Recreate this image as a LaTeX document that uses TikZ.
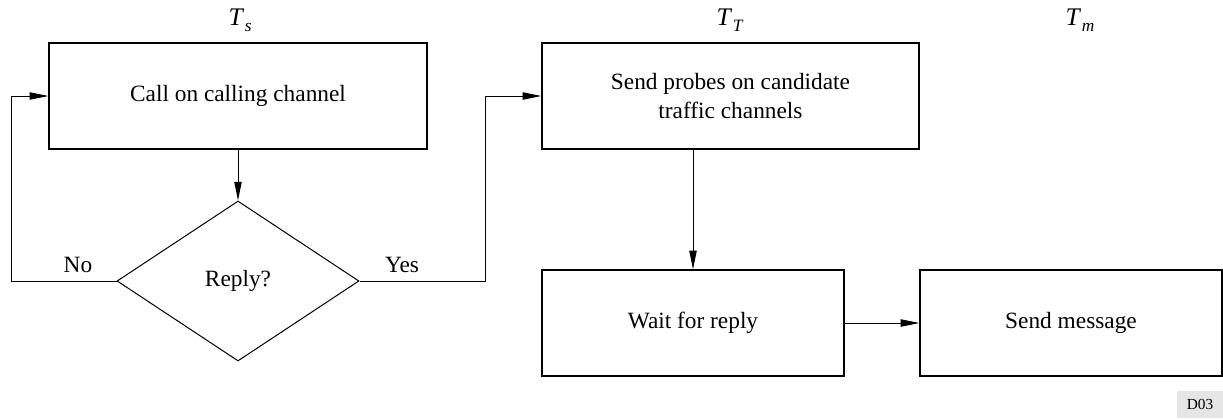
\documentclass[tikz,border=0pt]{standalone}
\usepackage{fontspec}
\setmainfont{Liberation Serif}
\usetikzlibrary{shapes.geometric,arrows.meta}

\newcommand{\tsub}[1]{{\fontsize{19}{19}\selectfont\textit{T}}\kern0.5pt\raisebox{-0.6ex}{\fontsize{13}{13}\selectfont\textit{#1}}}

\tikzset{every picture/.style={line width=0.75pt}}
\tikzset{
  blockbox/.style={draw, rectangle, line width=1pt, minimum width=#1, minimum height=79.5pt, inner sep=0pt, align=center},
  askbox/.style={draw, diamond, minimum width=181.5pt, minimum height=120pt, inner sep=0pt},
  flow/.style={-{Triangle[length=14pt,width=5.5pt]}},
}

\begin{document}
\begin{tikzpicture}[x=0.75pt,y=0.75pt,yscale=-1,xscale=1,font=\fontsize{17.5}{21.75}\selectfont]
\useasboundingbox (0,0) rectangle (1223,419);

% Text Node
\node (ts) at (240,20) {\tsub{s}};
% Text Node
\node (tt) at (730,20) {\tsub{T}};
% Text Node
\node (tm) at (1080,20) {\tsub{m}};

%Shape: Rectangle
\node [blockbox=283.5pt] (call) at (238,96) {Call on calling channel};
%Shape: Diamond
\node [askbox] (reply) at (238,281) {Reply?};
%Shape: Rectangle
\node [blockbox=282.75pt] (probe) at (730.5,96) {Send probes on candidate\\traffic channels};
%Shape: Rectangle
\node [blockbox=226.5pt] (wait) at (693,323) {Wait for reply};
%Shape: Rectangle
\node [blockbox=226.5pt] (msg) at (1071,323) {Send message};

%Straight Lines
\draw [flow] (call.south) -- (reply.north) ;
%Straight Lines
\draw [flow] (reply.west) -- ++(-105,0) |- (call.west) ;
%Straight Lines
\draw [flow] (reply.east) -- ++(126,0) |- (probe.west) ;
%Straight Lines
\draw [flow] (probe.south -| wait.north) -- (wait.north) ;
%Straight Lines
\draw [flow] (wait.east) -- (msg.west) ;

% Text Node
\node (no) at (78,265) {No};
% Text Node
\node (yes) at (402,265) {Yes};

% Text Node
\node [fill={rgb, 255:red, 230; green, 230; blue, 230 }, minimum width=34.5pt, minimum height=20pt, inner sep=0pt, font=\fontsize{11.5}{12}\selectfont] (tag) at (1200,404.5) {D03};

\end{tikzpicture}
\end{document}
